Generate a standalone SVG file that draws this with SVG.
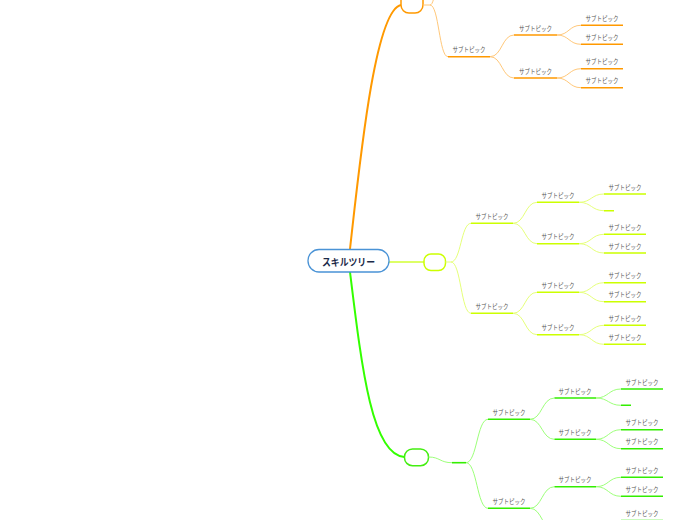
<svg xmlns="http://www.w3.org/2000/svg" width="696" height="520" viewBox="0 0 696 520">
<style>
.bg{fill:#ffffff}
.t{font-family:"Noto Sans CJK JP","Liberation Sans",sans-serif;font-size:6.6px;fill:#555555;text-anchor:middle}
.c{font-family:"Noto Sans CJK JP","Liberation Sans",sans-serif;font-size:10px;font-weight:bold;fill:#1b2a48;text-anchor:middle}
.cur{fill:none;stroke-width:1}
.ul{fill:none;stroke-width:1.6}
.o .cur{stroke:#ffc87a}.o .ul{stroke:#ff9900}
.y .cur{stroke:#e6ff7a}.y .ul{stroke:#ccff00}
.g .cur{stroke:#9dff7a}.g .ul{stroke:#33ee00}
.node{fill:#ffffff;stroke-width:1.5}
</style>
<rect class="bg" x="0" y="0" width="696" height="520"/>

<g id="connectors">
  <path d="M350,249 C360,160 375,10 401,5" fill="none" stroke="#ff9900" stroke-width="2"/>
  <path d="M389,262 H424" fill="none" stroke="#ddff66" stroke-width="1.8"/>
  <path d="M350,272 C362,370 372,455 404.5,457" fill="none" stroke="#33ff00" stroke-width="2"/>
</g>

<g id="center">
  <rect x="308" y="249.5" width="81" height="22.5" rx="11" fill="#ffffff" stroke="#4a93d6" stroke-width="1.3"/>
  <text class="c" x="348.5" y="265.5" textLength="53" lengthAdjust="spacingAndGlyphs">スキルツリー</text>
</g>

<!-- orange branch -->
<g id="branch-orange" class="o">
  <rect class="node" x="401" y="-10" width="22" height="23" rx="8" stroke="#ff9900"/>
  <path class="cur" d="M423,5 H430 M430,5 C433,5 434,-4 436,-10 M430,5 C439,5 439,56.7 448,56.7"/>
  <path class="ul" d="M448,56.7 H490"/>
  <text class="t" x="469" y="52" textLength="33" lengthAdjust="spacingAndGlyphs">サブトピック</text>
  <path class="cur" d="M490,56.7 C502,56.7 502,35 514,35 M490,56.7 C502,56.7 502,78 514,78"/>
  <path class="ul" d="M514,35 H557 M514,78 H557"/>
  <text class="t" x="535.5" y="30.5" textLength="33" lengthAdjust="spacingAndGlyphs">サブトピック</text>
  <text class="t" x="535.5" y="73.5" textLength="33" lengthAdjust="spacingAndGlyphs">サブトピック</text>
  <path class="cur" d="M557,35 C569,35 569,25.3 581,25.3 M557,35 C569,35 569,44.3 581,44.3 M557,78 C569,78 569,68.7 581,68.7 M557,78 C569,78 569,87.7 581,87.7"/>
  <path class="ul" d="M581,25.3 H623 M581,44.3 H623 M581,68.7 H623 M581,87.7 H623"/>
  <text class="t" x="602" y="21" textLength="33" lengthAdjust="spacingAndGlyphs">サブトピック</text>
  <text class="t" x="602" y="40" textLength="33" lengthAdjust="spacingAndGlyphs">サブトピック</text>
  <text class="t" x="602" y="64.4" textLength="33" lengthAdjust="spacingAndGlyphs">サブトピック</text>
  <text class="t" x="602" y="83.4" textLength="33" lengthAdjust="spacingAndGlyphs">サブトピック</text>
</g>

<!-- yellow-green branch -->
<g id="branch-yellow" class="y">
  <rect class="node" x="424" y="254" width="21.5" height="16.5" rx="7" stroke="#ccff00"/>
  <path class="cur" d="M445.5,262 H451 M451,262 C461,262 461,223.3 471,223.3 M451,262 C461,262 461,313.3 471,313.3"/>
  <path class="ul" d="M471,223.3 H513 M471,313.3 H513"/>
  <text class="t" x="492" y="219" textLength="33" lengthAdjust="spacingAndGlyphs">サブトピック</text>
  <text class="t" x="492" y="309" textLength="33" lengthAdjust="spacingAndGlyphs">サブトピック</text>
  <path class="cur" d="M513,223.3 C525,223.3 525,202.3 537,202.3 M513,223.3 C525,223.3 525,243.7 537,243.7 M513,313.3 C525,313.3 525,292.3 537,292.3 M513,313.3 C525,313.3 525,334.7 537,334.7"/>
  <path class="ul" d="M537,202.3 H579 M537,243.7 H579 M537,292.3 H579 M537,334.7 H579"/>
  <text class="t" x="558" y="198" textLength="33" lengthAdjust="spacingAndGlyphs">サブトピック</text>
  <text class="t" x="558" y="239.4" textLength="33" lengthAdjust="spacingAndGlyphs">サブトピック</text>
  <text class="t" x="558" y="288" textLength="33" lengthAdjust="spacingAndGlyphs">サブトピック</text>
  <text class="t" x="558" y="330.4" textLength="33" lengthAdjust="spacingAndGlyphs">サブトピック</text>
  <path class="cur" d="M579,202.3 C591.5,202.3 591.5,194 604,194 M579,202.3 C591.5,202.3 591.5,210.7 604,210.7 M579,243.7 C591.5,243.7 591.5,234.3 604,234.3 M579,243.7 C591.5,243.7 591.5,253 604,253 M579,292.3 C591.5,292.3 591.5,282.7 604,282.7 M579,292.3 C591.5,292.3 591.5,301.7 604,301.7 M579,334.7 C591.5,334.7 591.5,325.3 604,325.3 M579,334.7 C591.5,334.7 591.5,344.3 604,344.3"/>
  <path class="ul" d="M604,194 H646 M604,210.7 H614 M604,234.3 H646 M604,253 H646 M604,282.7 H646 M604,301.7 H646 M604,325.3 H646 M604,344.3 H646"/>
  <text class="t" x="625" y="189.7" textLength="33" lengthAdjust="spacingAndGlyphs">サブトピック</text>
  <text class="t" x="625" y="230" textLength="33" lengthAdjust="spacingAndGlyphs">サブトピック</text>
  <text class="t" x="625" y="248.7" textLength="33" lengthAdjust="spacingAndGlyphs">サブトピック</text>
  <text class="t" x="625" y="278.4" textLength="33" lengthAdjust="spacingAndGlyphs">サブトピック</text>
  <text class="t" x="625" y="297.4" textLength="33" lengthAdjust="spacingAndGlyphs">サブトピック</text>
  <text class="t" x="625" y="321" textLength="33" lengthAdjust="spacingAndGlyphs">サブトピック</text>
  <text class="t" x="625" y="340" textLength="33" lengthAdjust="spacingAndGlyphs">サブトピック</text>
</g>

<!-- green branch -->
<g id="branch-green" class="g">
  <rect class="node" x="404.5" y="449" width="24" height="16.7" rx="8" stroke="#44ee11"/>
  <path class="cur" d="M428.5,457 C440,457 440,462.7 452,462.7"/>
  <path class="ul" d="M452,462.7 H466"/>
  <path class="cur" d="M466,462.7 C477,462.7 477,419.3 488,419.3 M466,462.7 C477,462.7 477,508.3 488,508.3"/>
  <path class="ul" d="M488,419.3 H530 M488,508.3 H530"/>
  <text class="t" x="509" y="415" textLength="33" lengthAdjust="spacingAndGlyphs">サブトピック</text>
  <text class="t" x="509" y="504" textLength="33" lengthAdjust="spacingAndGlyphs">サブトピック</text>
  <path class="cur" d="M530,419.3 C542,419.3 542,398 554.5,398 M530,419.3 C542,419.3 542,439.3 554.5,439.3 M530,508.3 C542,508.3 542,486.7 554.5,486.7 M530,508.3 C542,508.3 542,530 554.5,530"/>
  <path class="ul" d="M554.5,398 H596 M554.5,439.3 H596 M554.5,486.7 H596 M554.5,530 H596"/>
  <text class="t" x="575" y="393.7" textLength="33" lengthAdjust="spacingAndGlyphs">サブトピック</text>
  <text class="t" x="575" y="435" textLength="33" lengthAdjust="spacingAndGlyphs">サブトピック</text>
  <text class="t" x="575" y="482.4" textLength="33" lengthAdjust="spacingAndGlyphs">サブトピック</text>
  <path class="cur" d="M596,398 C608.5,398 608.5,389 621,389 M596,398 C608.5,398 608.5,405.3 621,405.3 M596,439.3 C608.5,439.3 608.5,429.7 621,429.7 M596,439.3 C608.5,439.3 608.5,448.7 621,448.7 M596,486.7 C608.5,486.7 608.5,477.3 621,477.3 M596,486.7 C608.5,486.7 608.5,496.3 621,496.3 M596,530 C608.5,530 608.5,520.6 621,520.6"/>
  <path class="ul" d="M621,389 H663 M621,405.3 H631 M621,429.7 H663 M621,448.7 H663 M621,477.3 H663 M621,496.3 H663 M621,520.6 H663"/>
  <text class="t" x="642" y="384.7" textLength="33" lengthAdjust="spacingAndGlyphs">サブトピック</text>
  <text class="t" x="642" y="425.4" textLength="33" lengthAdjust="spacingAndGlyphs">サブトピック</text>
  <text class="t" x="642" y="444.4" textLength="33" lengthAdjust="spacingAndGlyphs">サブトピック</text>
  <text class="t" x="642" y="473" textLength="33" lengthAdjust="spacingAndGlyphs">サブトピック</text>
  <text class="t" x="642" y="492" textLength="33" lengthAdjust="spacingAndGlyphs">サブトピック</text>
  <text class="t" x="642" y="516" textLength="33" lengthAdjust="spacingAndGlyphs">サブトピック</text>
</g>
</svg>
